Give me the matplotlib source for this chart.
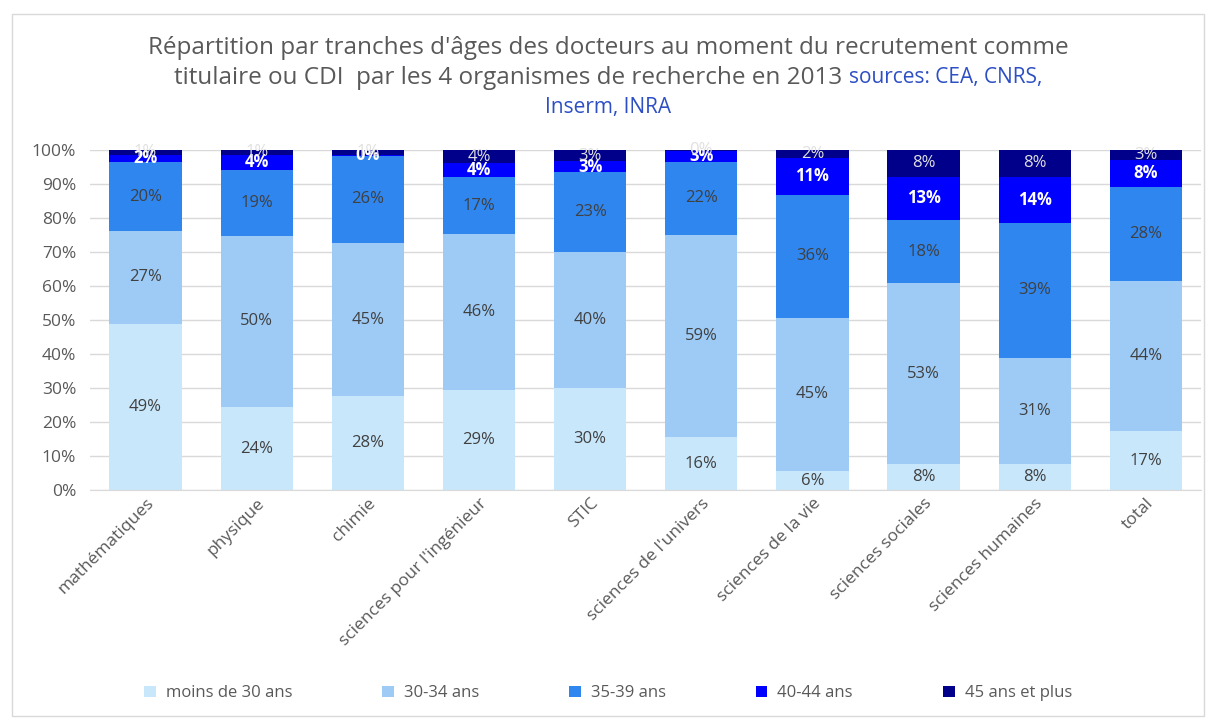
import matplotlib
matplotlib.use("Agg")
import matplotlib.pyplot as plt
import numpy as np
from matplotlib.patches import Rectangle
from matplotlib.ticker import PercentFormatter

plt.rcParams['font.family'] = ['Open Sans', 'DejaVu Sans']

# categories and stacked shares (%)
categories = ["mathématiques", "physique", "chimie", "sciences pour l'ingénieur", "STIC",
              "sciences de l'univers", "sciences de la vie", "sciences sociales",
              "sciences humaines", "total"]
moins30 = [48.9, 24.4, 27.6, 29.4, 30.0, 15.6, 5.6, 7.6, 7.7, 17.4]
a30_34 = [27.2, 50.4, 45.0, 45.9, 40.0, 59.4, 45.1, 53.3, 31.3, 44.2]
a35_39 = [20.2, 19.4, 25.7, 16.6, 23.4, 21.5, 36.1, 18.4, 39.4, 27.6]
a40_44 = [2.3, 4.4, 0.3, 4.1, 3.2, 3.2, 10.9, 12.8, 13.6, 7.8]
a45plus = [1.4, 1.4, 1.4, 4.0, 3.4, 0.3, 2.3, 7.9, 8.0, 3.0]

series_names = ["moins de 30 ans", "30-34 ans", "35-39 ans", "40-44 ans", "45 ans et plus"]
colors = ["#c9e7fb", "#9dcbf6", "#2f86ef", "#0000ff", "#00008b"]
label_colors = ["#404040", "#404040", "#404040", "white", "#e0e0e0"]
label_weights = ["normal", "normal", "normal", "bold", "normal"]

fig = plt.figure(figsize=(12.16, 7.2), dpi=100)
ax = fig.add_axes([0.074, 0.319, 0.914, 0.473])

x = np.arange(len(categories))
bottom = np.zeros(len(categories))
all_series = [moins30, a30_34, a35_39, a40_44, a45plus]
for vals, name, col, lc, lw in zip(all_series, series_names, colors, label_colors, label_weights):
    vals = np.array(vals)
    ax.bar(x, vals, 0.65, bottom=bottom, color=col, label=name, zorder=2)
    for xi, b, v in zip(x, bottom, vals):
        ax.text(xi, b + v / 2, "%d%%" % round(v), ha='center', va='center',
                fontsize=12, color=lc, fontweight=lw, zorder=3)
    bottom += vals

ax.set_xlim(-0.5, len(categories) - 0.5)
ax.set_ylim(0, 100)
ax.set_yticks(np.arange(0, 101, 10))
ax.yaxis.set_major_formatter(PercentFormatter(decimals=0))
ax.grid(axis='y', color='#d9d9d9', linewidth=1, zorder=0)
for s in ['top', 'right', 'left']:
    ax.spines[s].set_visible(False)
ax.spines['bottom'].set_color('#d9d9d9')
ax.tick_params(axis='both', length=0, labelsize=12.5, labelcolor='#595959')
ax.tick_params(axis='y', pad=10)
ax.set_xticks(x)
ax.set_xticklabels(categories, rotation=45, ha='right', rotation_mode='anchor')

# title (two colours on line 2)
tcol = '#595959'
fig.text(0.5, 0.933, "Répartition par tranches d'âges des docteurs au moment du recrutement comme",
         ha='center', va='center', fontsize=17.5, color=tcol)
renderer = fig.canvas.get_renderer()
t1 = fig.text(0, 0.892, "titulaire ou CDI  par les 4 organismes de recherche en 2013 ",
              ha='left', va='center', fontsize=17.5, color=tcol)
t2 = fig.text(0, 0.892, "sources: CEA, CNRS,", ha='left', va='center', fontsize=15, color='#2d4fc4')
w1 = t1.get_window_extent(renderer).width / fig.bbox.width
w2 = t2.get_window_extent(renderer).width / fig.bbox.width
start = 0.5 - (w1 + w2) / 2
t1.set_x(start)
t2.set_x(start + w1)
fig.text(0.5, 0.851, "Inserm, INRA", ha='center', va='center', fontsize=15, color='#2d4fc4')

fig.legend(loc='center', bbox_to_anchor=(0.5, 0.037), ncol=5, frameon=False,
           fontsize=12, labelcolor='#595959', handlelength=0.7, handleheight=0.7,
           columnspacing=5.4, handletextpad=0.6)

fig.patches.append(Rectangle((0.01, 0.005), 0.98, 0.975, transform=fig.transFigure,
                             fill=False, edgecolor='#d9d9d9', linewidth=1))

fig.savefig("out.png", dpi=100)
